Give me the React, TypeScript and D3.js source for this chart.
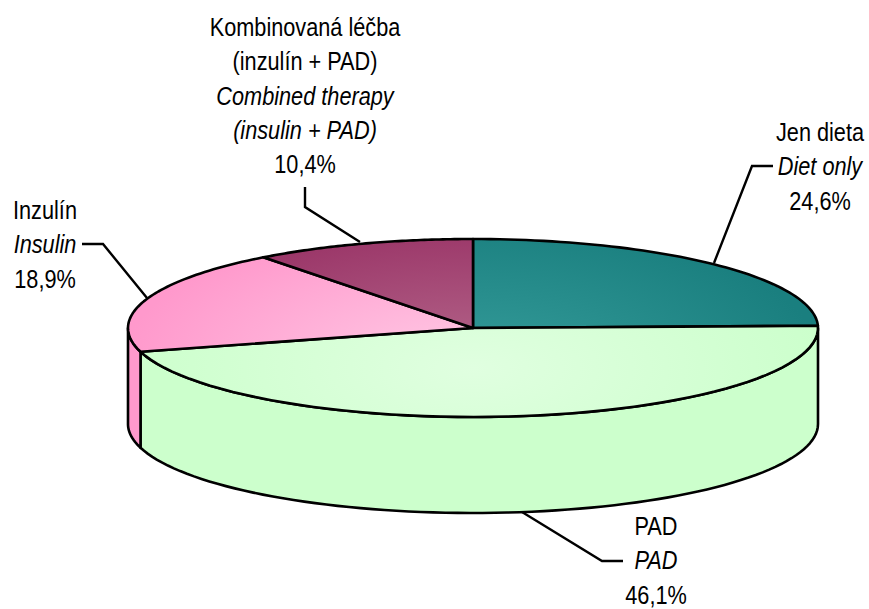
import React from "react";
import * as d3 from "d3";

const categories = ["Jen dieta", "PAD", "Inzulín", "Kombinovaná léčba"];
const values = [24.6, 46.1, 18.9, 10.4];
const topColors = [
  ["#359c9a", "#1a7f7f"],
  ["#e0ffe0", "#ccffcc"],
  ["#ffcce6", "#ff99cc"],
  ["#b5688c", "#993366"],
];
const wallColors = ["#1a7f7f", "#ccffcc", "#ff99cc", "#993366"];

type Label = { lines: [string, boolean][]; x: number; y: number };
const labels: Label[] = [
  { lines: [["Jen dieta", false], ["Diet only", true], ["24,6%", false]], x: 820, y: 141 },
  { lines: [["PAD", false], ["PAD", true], ["46,1%", false]], x: 656, y: 535 },
  { lines: [["Inzulín", false], ["Insulin", true], ["18,9%", false]], x: 45, y: 219 },
  {
    lines: [
      ["Kombinovaná léčba", false],
      ["(inzulín + PAD)", false],
      ["Combined therapy", true],
      ["(insulin + PAD)", true],
      ["10,4%", false],
    ],
    x: 305,
    y: 36,
  },
];
const leaders: [number, number][][] = [
  [[773, 166], [752, 166], [714, 263]],
  [[623, 561], [602, 561], [522, 512]],
  [[82, 244], [103, 244], [147, 298]],
  [[305, 187], [305, 207], [360, 242]],
];

const cx = 473;
const cy = 328;
const rx = 345;
const ry = 89;
const depth = 96;
const lineSpacing = 34.3;

const pie = d3.pie<number>().sort(null).value((d) => d);
const arcs = pie(values);
const px = (a: number) => cx + rx * Math.sin(a);
const py = (a: number) => cy - ry * Math.cos(a);
const sample = (a0: number, a1: number, n: number) =>
  d3.range(n + 1).map((i) => a0 + ((a1 - a0) * i) / n);

function wallPath(a0: number, a1: number) {
  const lo = Math.max(a0, Math.PI / 2);
  const hi = Math.min(a1, (3 * Math.PI) / 2);
  if (hi <= lo) return null;
  const angles = sample(lo, hi, 80);
  const pts: [number, number][] = [
    ...angles.map((a) => [px(a), py(a)] as [number, number]),
    ...angles.slice().reverse().map((a) => [px(a), py(a) + depth] as [number, number]),
  ];
  return d3.line()(pts) + "Z";
}

export default function App() {
  return (
    <svg
      width={869}
      height={609}
      style={{ position: "absolute", left: 0, top: 0, background: "#fff" }}
      fontFamily="Liberation Sans, Arial, sans-serif"
      fontSize={21.7}
    >
      <defs>
        {topColors.map((c, i) => (
          <radialGradient
            key={i}
            id={`g${i}`}
            gradientUnits="userSpaceOnUse"
            cx={0}
            cy={0}
            r={1}
            gradientTransform={`translate(${cx} ${cy + 40}) scale(${rx * 1.2} ${ry * 2})`}
          >
            <stop offset="0" stopColor={c[0]} />
            <stop offset="0.85" stopColor={c[1]} />
          </radialGradient>
        ))}
      </defs>

      {arcs.map((a, i) => {
        const d = wallPath(a.startAngle, a.endAngle);
        return d ? (
          <path key={i} d={d} fill={wallColors[i]} stroke="#000" strokeWidth={2.6} strokeLinejoin="round" />
        ) : null;
      })}

      {arcs.map((a, i) => {
        const pts = sample(a.startAngle, a.endAngle, 60).map((t) => [px(t), py(t)] as [number, number]);
        const d = d3.line()([[cx, cy], ...pts]) + "Z";
        return (
          <path
            key={categories[i]}
            d={d}
            fill={`url(#g${i})`}
            stroke="#000"
            strokeWidth={2.6}
            strokeLinejoin="round"
          />
        );
      })}

      {leaders.map((l, i) => (
        <path key={i} d={d3.line()(l)!} fill="none" stroke="#000" strokeWidth={2.4} />
      ))}

      {labels.map((l, i) => (
        <g key={i}>
          {l.lines.map(([t, it], k) => (
            <text
              key={k}
              textAnchor="middle"
              fill="#000"
              fontStyle={it ? "italic" : "normal"}
              transform={`translate(${l.x} ${l.y + k * lineSpacing}) scale(1 1.16)`}
            >
              {t}
            </text>
          ))}
        </g>
      ))}
    </svg>
  );
}
